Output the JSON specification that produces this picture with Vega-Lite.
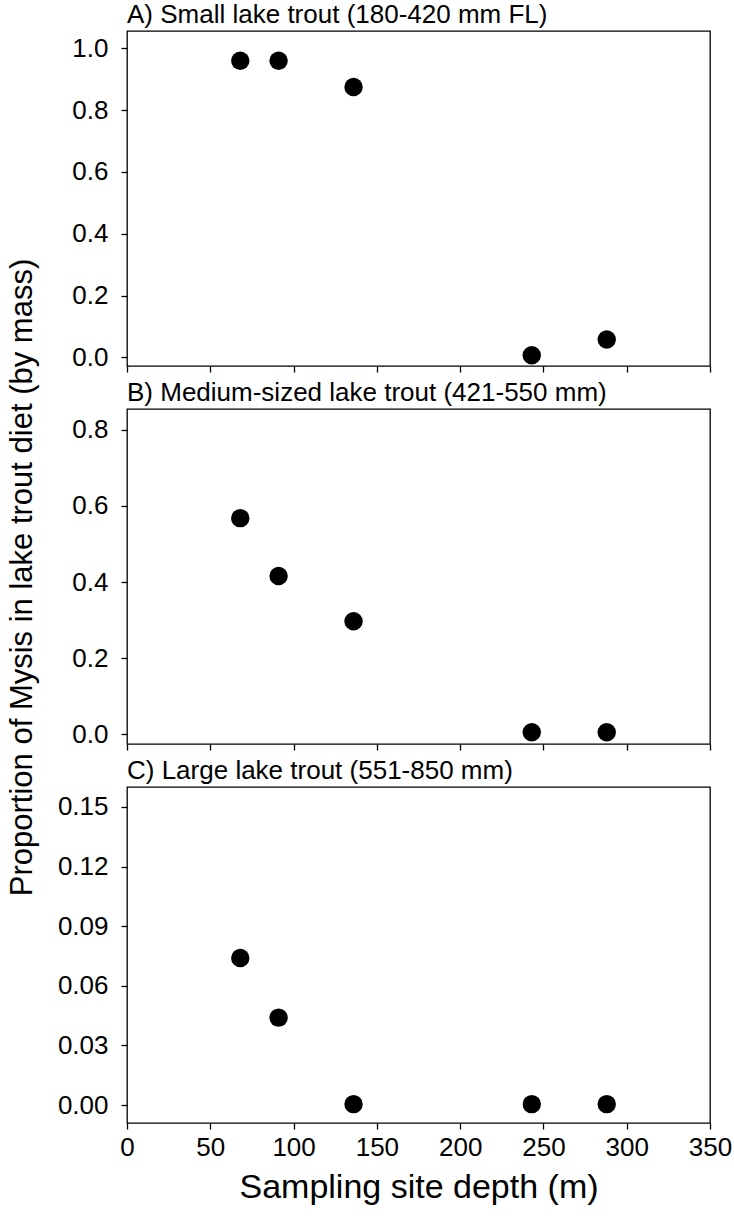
{
  "$schema": "https://vega.github.io/schema/vega-lite/v6.json",
  "padding": {"left": 6, "top": 1, "right": 2, "bottom": 5},
  "background": "white",
  "spacing": 43,
  "bounds": "flush",
  "datasets": {
    "diet": [
      {"panel": "A", "depth": 68, "prop": 0.96},
      {"panel": "A", "depth": 91, "prop": 0.96},
      {"panel": "A", "depth": 136, "prop": 0.875},
      {"panel": "A", "depth": 243, "prop": 0.007},
      {"panel": "A", "depth": 288, "prop": 0.058},
      {"panel": "B", "depth": 68, "prop": 0.568},
      {"panel": "B", "depth": 91, "prop": 0.416},
      {"panel": "B", "depth": 136, "prop": 0.297},
      {"panel": "B", "depth": 243, "prop": 0.005},
      {"panel": "B", "depth": 288, "prop": 0.005},
      {"panel": "C", "depth": 68, "prop": 0.074},
      {"panel": "C", "depth": 91, "prop": 0.044},
      {"panel": "C", "depth": 136, "prop": 0.0005},
      {"panel": "C", "depth": 243, "prop": 0.0005},
      {"panel": "C", "depth": 288, "prop": 0.0005}
    ]
  },
  "config": {
    "font": "Liberation Sans",
    "view": {"stroke": "black", "strokeWidth": 1.3},
    "axis": {
      "domain": false,
      "grid": false,
      "labelFont": "Liberation Sans",
      "labelFontSize": 26,
      "labelColor": "black",
      "labelFlush": false,
      "labelOverlap": false,
      "tickColor": "black",
      "tickSize": 6,
      "tickWidth": 1.3,
      "labelPadding": 13,
      "titleFont": "Liberation Sans",
      "titleFontWeight": "normal",
      "titleColor": "black"
    },
    "title": {
      "font": "Liberation Sans",
      "fontSize": 26,
      "fontWeight": "normal",
      "color": "black",
      "anchor": "start",
      "frame": "group",
      "offset": 3
    }
  },
  "vconcat": [
    {
      "title": "A) Small lake trout (180-420 mm FL)",
      "width": 583,
      "height": 335,
      "data": {"name": "diet"},
      "transform": [{"filter": "datum.panel === 'A'"}],
      "mark": {"type": "circle", "size": 340, "color": "black", "opacity": 1},
      "encoding": {
        "x": {"field": "depth", "type": "quantitative",
              "scale": {"domain": [0, 350], "nice": false, "zero": false},
              "axis": {"title": null, "labels": false, "values": [0, 50, 100, 150, 200, 250, 300, 350]}},
        "y": {"field": "prop", "type": "quantitative",
              "scale": {"domain": [-0.028, 1.056], "nice": false, "zero": false},
              "axis": {"title": "Proportion of Mysis in lake trout diet (by mass)", "titleFontSize": 31, "titlePadding": 33,
                       "titleY": 546, "titleAlign": "center", "titleAngle": 270,
                       "values": [0, 0.2, 0.4, 0.6, 0.8, 1.0], "format": ".1f"}}
      }
    },
    {
      "title": "B) Medium-sized lake trout (421-550 mm)",
      "width": 583,
      "height": 335,
      "data": {"name": "diet"},
      "transform": [{"filter": "datum.panel === 'B'"}],
      "mark": {"type": "circle", "size": 340, "color": "black", "opacity": 1},
      "encoding": {
        "x": {"field": "depth", "type": "quantitative",
              "scale": {"domain": [0, 350], "nice": false, "zero": false},
              "axis": {"title": null, "labels": false, "values": [0, 50, 100, 150, 200, 250, 300, 350]}},
        "y": {"field": "prop", "type": "quantitative",
              "scale": {"domain": [-0.026, 0.855], "nice": false, "zero": false},
              "axis": {"title": null, "values": [0, 0.2, 0.4, 0.6, 0.8], "format": ".1f"}}
      }
    },
    {
      "title": "C) Large lake trout (551-850 mm)",
      "width": 583,
      "height": 336,
      "data": {"name": "diet"},
      "transform": [{"filter": "datum.panel === 'C'"}],
      "mark": {"type": "circle", "size": 340, "color": "black", "opacity": 1},
      "encoding": {
        "x": {"field": "depth", "type": "quantitative",
              "scale": {"domain": [0, 350], "nice": false, "zero": false},
              "axis": {"title": "Sampling site depth (m)", "titleFontSize": 34, "titlePadding": 10,
                       "labelPadding": 5, "values": [0, 50, 100, 150, 200, 250, 300, 350]}},
        "y": {"field": "prop", "type": "quantitative",
              "scale": {"domain": [-0.009, 0.16], "nice": false, "zero": false},
              "axis": {"title": null, "values": [0, 0.03, 0.06, 0.09, 0.12, 0.15], "format": ".2f"}}
      }
    }
  ]
}
